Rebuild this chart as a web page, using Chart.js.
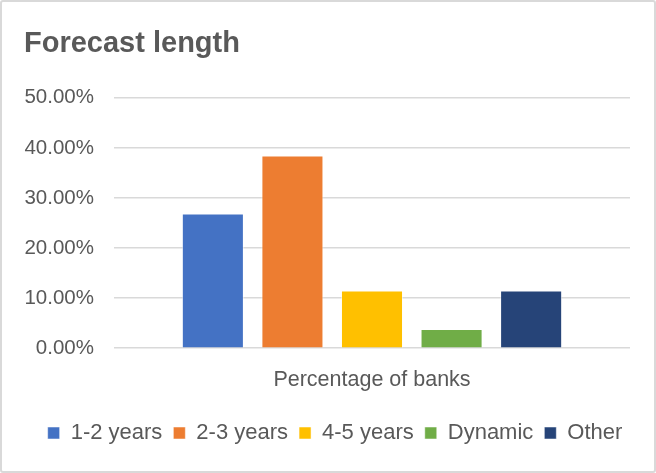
<!DOCTYPE html>
<html>
<head>
<meta charset="utf-8">
<script src="https://cdn.jsdelivr.net/npm/chart.js@4"></script>
<style>
  body { margin: 0; background: #fff; }
  #wrap { position: relative; width: 656px; height: 473px; box-sizing: border-box; border: 2px solid #d9d9d9; border-radius: 3px; }
  #myChart { display: block; }
</style>
</head>
<body>
<div id="wrap"><canvas id="myChart" width="652" height="469"></canvas></div>
<script>
const categories = ['Percentage of banks'];
const seriesNames = ['1-2 years', '2-3 years', '4-5 years', 'Dynamic', 'Other'];
const seriesValues = [26.92, 38.46, 11.54, 3.85, 11.54];
const seriesColors = ['#4472C4', '#ED7D31', '#FFC000', '#70AD47', '#264478'];
const yTicks = [0, 10, 20, 30, 40, 50];

const textColor = '#595959';
const fontFamily = "'Liberation Sans', Arial, sans-serif";

const ctx = document.getElementById('myChart');

const datasets = seriesNames.map((name, i) => ({
    label: name,
    data: [seriesValues[i]],
    backgroundColor: seriesColors[i],
    borderColor: 'rgba(255,255,255,0.5)',
    borderWidth: 1,
    categoryPercentage: 0.771,
    barPercentage: 0.78
}));

// legend in the original sits a little right of centre
const legendShift = {
    id: 'legendShift',
    afterLayout(chart) {
        chart.legend.left += 8;
        chart.legend.right += 8;
    }
};

const config = {
    type: 'bar',
    data: {
        labels: categories,
        datasets: datasets
    },
    options: {
        responsive: false,
        animation: false,
        layout: {
            padding: { left: 22, right: 24, top: 8, bottom: 17 }
        },
        plugins: {
            title: {
                display: true,
                text: 'Forecast length',
                align: 'start',
                color: textColor,
                font: { family: fontFamily, size: 29, weight: 'bold' },
                padding: { top: 17, bottom: 36 }
            },
            legend: {
                position: 'bottom',
                labels: {
                    color: textColor,
                    font: { family: fontFamily, size: 22 },
                    boxWidth: 12,
                    boxHeight: 12,
                    padding: 11
                }
            },
            tooltip: { enabled: false }
        },
        scales: {
            x: {
                grid: { display: false },
                border: { display: false },
                afterFit: axis => { axis.height = axis.height + 7; },
                ticks: {
                    color: textColor,
                    font: { family: fontFamily, size: 21.5 },
                    padding: 11
                }
            },
            y: {
                min: yTicks[0],
                max: yTicks[yTicks.length - 1],
                afterBuildTicks: axis => { axis.ticks = yTicks.map(v => ({ value: v })); },
                afterFit: axis => { axis.width = 90; },
                border: { display: false },
                grid: { color: '#d9d9d9', lineWidth: 1.5, drawTicks: false },
                ticks: {
                    color: textColor,
                    font: { family: fontFamily, size: 20.5 },
                    padding: 20,
                    callback: v => v.toFixed(2) + '%'
                }
            }
        }
    },
    plugins: [legendShift]
};

chart = new Chart(ctx, config);
</script>
</body>
</html>
